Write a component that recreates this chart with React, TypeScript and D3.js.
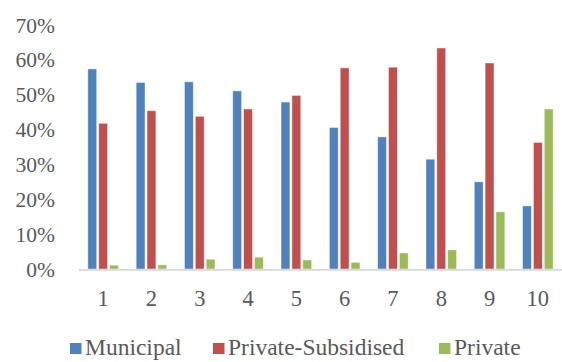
import React from "react";
import * as d3 from "d3";

const categories = ["1", "2", "3", "4", "5", "6", "7", "8", "9", "10"];
const seriesNames = ["Municipal", "Private-Subsidised", "Private"];
const municipal = [0.574, 0.535, 0.537, 0.511, 0.479, 0.406, 0.379, 0.315, 0.25, 0.181];
const privateSubsidised = [0.418, 0.454, 0.438, 0.459, 0.498, 0.577, 0.579, 0.634, 0.591, 0.363];
const privateOnly = [0.011, 0.012, 0.028, 0.034, 0.026, 0.019, 0.046, 0.055, 0.164, 0.459];
const yTicks = [0, 0.1, 0.2, 0.3, 0.4, 0.5, 0.6, 0.7];
const colors = ["#4F81BD", "#C0504D", "#9BBB59"];

const W = 562;
const H = 362;
const FONT = "Liberation Serif";

export default function App() {
  const series = [municipal, privateSubsidised, privateOnly];
  const x = d3.scaleBand<string>().domain(categories).range([79, 562]);
  const inner = d3
    .scaleBand<string>()
    .domain(seriesNames)
    .range([0, 32.6]);
  const groupOffset = (x.bandwidth() - 32.6) / 2;
  const y = d3.scaleLinear().domain([0, 0.7]).range([269, 25]);
  const fmt = d3.format(".0%");

  // legend layout
  const legendItems = [
    { name: seriesNames[0], sx: 70, tx: 85 },
    { name: seriesNames[1], sx: 213, tx: 228 },
    { name: seriesNames[2], sx: 439, tx: 454 },
  ];

  const textStyle = { fontFamily: FONT };

  return (
    <svg
      width={W}
      height={H}
      style={{ position: "absolute", left: 0, top: 0, background: "#fff" }}
    >
      {yTicks.map((t) => (
        <text
          key={t}
          x={55}
          y={y(t)}
          dy="0.35em"
          textAnchor="end"
          fontSize={21.5}
          fill="#595959"
          style={textStyle}
        >
          {fmt(t)}
        </text>
      ))}
      {categories.map((c, i) => (
        <g key={c}>
          {series.map((vals, s) => {
            const bx = (x(c) as number) + groupOffset + (inner(seriesNames[s]) as number);
            const top = y(vals[i]);
            return (
              <rect
                key={s}
                x={bx + 1}
                y={top}
                width={inner.bandwidth() - 2}
                height={y(0) - top}
                fill={colors[s]}
                stroke="rgba(255,255,255,0.55)"
                strokeWidth={0.8}
              />
            );
          })}
          <text
            x={(x(c) as number) + x.bandwidth() / 2}
            y={306}
            textAnchor="middle"
            fontSize={22.5}
            fill="#595959"
            style={textStyle}
          >
            {c}
          </text>
        </g>
      ))}
      <line x1={79} x2={562} y1={269.8} y2={269.8} stroke="#D9D9D9" strokeWidth={1.8} />
      {legendItems.map((it, s) => (
        <g key={it.name}>
          <rect x={it.sx} y={343} width={11.5} height={11} fill={colors[s]} />
          <text x={it.tx} y={355} fontSize={23.5} fill="#595959" style={textStyle}>
            {it.name}
          </text>
        </g>
      ))}
    </svg>
  );
}
